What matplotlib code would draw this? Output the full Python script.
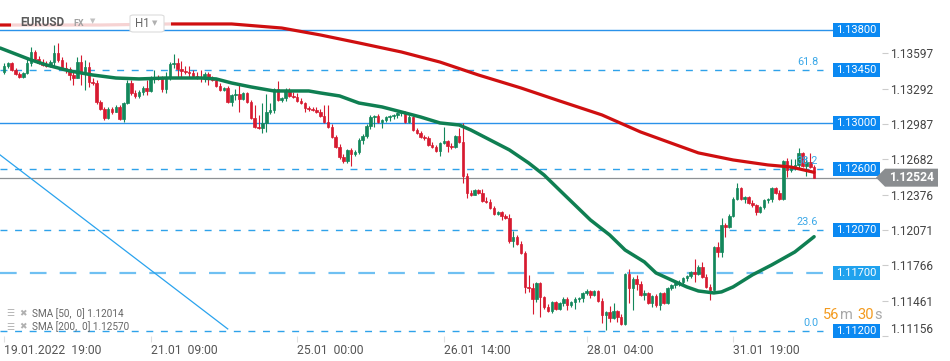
import matplotlib
matplotlib.use("Agg")
import matplotlib.pyplot as plt
from matplotlib.patches import Rectangle, Polygon, FancyBboxPatch
import numpy as np

plt.rcParams['font.family'] = ['Roboto', 'DejaVu Sans']
plt.rcParams['lines.scale_dashes'] = False

# EURUSD H1 candles (open of each candle = previous close)
first_open = 1.13437
close = [
    1.13489, 1.13515, 1.13454, 1.13420, 1.13394, 1.13428, 1.13515, 1.13610, 1.13549, 1.13515,
    1.13498, 1.13489, 1.13523, 1.13601, 1.13541, 1.13472, 1.13463, 1.13411, 1.13385, 1.13523,
    1.13437, 1.13480, 1.13351, 1.13342, 1.13178, 1.13118, 1.13040, 1.13118, 1.13092, 1.13135,
    1.13031, 1.13169, 1.13342, 1.13256, 1.13230, 1.13264, 1.13299, 1.13273, 1.13385, 1.13394,
    1.13385, 1.13290, 1.13385, 1.13506, 1.13515, 1.13463, 1.13446, 1.13437, 1.13428, 1.13402,
    1.13394, 1.13385, 1.13420, 1.13377, 1.13368, 1.13316, 1.13282, 1.13299, 1.13178, 1.13238,
    1.13247, 1.13204, 1.13256, 1.13178, 1.13040, 1.12962, 1.12954, 1.12997, 1.13092, 1.13109,
    1.13290, 1.13195, 1.13213, 1.13282, 1.13230, 1.13221, 1.13187, 1.13169, 1.13126, 1.13118,
    1.13109, 1.13092, 1.13057, 1.13005, 1.12962, 1.12876, 1.12789, 1.12703, 1.12668, 1.12764,
    1.12729, 1.12746, 1.12850, 1.12884, 1.12971, 1.13048, 1.13057, 1.13005, 1.13023, 1.13048,
    1.13057, 1.13066, 1.13083, 1.13092, 1.13005, 1.13048, 1.12936, 1.12910, 1.12876, 1.12867,
    1.12807, 1.12789, 1.12755, 1.12824, 1.12841, 1.12798, 1.12789, 1.12884, 1.12833, 1.12539,
    1.12392, 1.12375, 1.12417, 1.12392, 1.12323, 1.12314, 1.12262, 1.12210, 1.12228, 1.12193,
    1.12176, 1.11977, 1.12012, 1.11951, 1.11874, 1.11580, 1.11571, 1.11476, 1.11615, 1.11494,
    1.11407, 1.11373, 1.11450, 1.11390, 1.11442, 1.11476, 1.11424, 1.11450, 1.11476, 1.11485,
    1.11528, 1.11545, 1.11511, 1.11545, 1.11459, 1.11338, 1.11364, 1.11312, 1.11373, 1.11321,
    1.11260, 1.11692, 1.11571, 1.11649, 1.11606, 1.11511, 1.11528, 1.11442, 1.11502, 1.11424,
    1.11528, 1.11442, 1.11571, 1.11597, 1.11615, 1.11623, 1.11658, 1.11675, 1.11709, 1.11692,
    1.11753, 1.11666, 1.11580, 1.11554, 1.11925, 1.11882, 1.12115, 1.12098, 1.12193, 1.12340,
    1.12435, 1.12340, 1.12357, 1.12305, 1.12288, 1.12228, 1.12271, 1.12331, 1.12340, 1.12435,
    1.12392, 1.12340, 1.12668, 1.12590, 1.12616, 1.12634, 1.12738, 1.12625, 1.12660, 1.12616,
    1.12524,
]
high = [
    1.13515, 1.13523, 1.13523, 1.13472, 1.13437, 1.13437, 1.13558, 1.13653, 1.13627, 1.13575,
    1.13549, 1.13532, 1.13541, 1.13670, 1.13688, 1.13567, 1.13523, 1.13480, 1.13437, 1.13567,
    1.13584, 1.13541, 1.13523, 1.13385, 1.13368, 1.13195, 1.13135, 1.13135, 1.13135, 1.13152,
    1.13152, 1.13178, 1.13368, 1.13368, 1.13282, 1.13282, 1.13316, 1.13368, 1.13402, 1.13454,
    1.13411, 1.13402, 1.13437, 1.13523, 1.13593, 1.13558, 1.13532, 1.13489, 1.13489, 1.13454,
    1.13437, 1.13454, 1.13437, 1.13437, 1.13402, 1.13385, 1.13342, 1.13308, 1.13316, 1.13247,
    1.13290, 1.13325, 1.13264, 1.13264, 1.13195, 1.13152, 1.13066, 1.13169, 1.13247, 1.13169,
    1.13299, 1.13359, 1.13221, 1.13299, 1.13299, 1.13264, 1.13256, 1.13213, 1.13178, 1.13143,
    1.13135, 1.13135, 1.13118, 1.13152, 1.13152, 1.12988, 1.12893, 1.12815, 1.12729, 1.12772,
    1.12781, 1.12764, 1.12867, 1.12902, 1.12988, 1.13066, 1.13066, 1.13074, 1.13031, 1.13057,
    1.13066, 1.13074, 1.13092, 1.13100, 1.13100, 1.13066, 1.13057, 1.12954, 1.12928, 1.12893,
    1.12884, 1.12833, 1.12807, 1.12833, 1.12962, 1.12850, 1.12824, 1.12893, 1.12954, 1.12997,
    1.12565, 1.12417, 1.12426, 1.12426, 1.12426, 1.12357, 1.12340, 1.12279, 1.12236, 1.12236,
    1.12210, 1.12210, 1.12064, 1.12029, 1.11977, 1.11891, 1.11684, 1.11615, 1.11623, 1.11623,
    1.11502, 1.11433, 1.11459, 1.11459, 1.11450, 1.11494, 1.11494, 1.11459, 1.11494, 1.11494,
    1.11537, 1.11563, 1.11554, 1.11554, 1.11554, 1.11485, 1.11373, 1.11416, 1.11442, 1.11381,
    1.11347, 1.11701, 1.11735, 1.11666, 1.11684, 1.11632, 1.11554, 1.11537, 1.11511, 1.11519,
    1.11537, 1.11537, 1.11580, 1.11606, 1.11623, 1.11640, 1.11666, 1.11684, 1.11718, 1.11822,
    1.11770, 1.11796, 1.11692, 1.11606, 1.11934, 1.11969, 1.12176, 1.12133, 1.12210, 1.12357,
    1.12478, 1.12444, 1.12366, 1.12366, 1.12331, 1.12297, 1.12279, 1.12340, 1.12349, 1.12444,
    1.12444, 1.12417, 1.12677, 1.12694, 1.12686, 1.12686, 1.12781, 1.12746, 1.12703, 1.12738,
    1.12634,
]
low = [
    1.13420, 1.13472, 1.13446, 1.13411, 1.13385, 1.13385, 1.13420, 1.13489, 1.13541, 1.13506,
    1.13489, 1.13480, 1.13480, 1.13489, 1.13523, 1.13454, 1.13428, 1.13368, 1.13325, 1.13385,
    1.13325, 1.13282, 1.13308, 1.13325, 1.13161, 1.13109, 1.13023, 1.13031, 1.13074, 1.13092,
    1.13023, 1.13005, 1.13161, 1.13238, 1.13213, 1.13213, 1.13238, 1.13238, 1.13264, 1.13342,
    1.13368, 1.13264, 1.13256, 1.13368, 1.13472, 1.13394, 1.13385, 1.13420, 1.13394, 1.13385,
    1.13377, 1.13351, 1.13351, 1.13325, 1.13359, 1.13308, 1.13273, 1.13273, 1.13169, 1.13143,
    1.13195, 1.13092, 1.13195, 1.13169, 1.13031, 1.12954, 1.12945, 1.12910, 1.12919, 1.13074,
    1.13083, 1.13187, 1.13178, 1.13187, 1.13221, 1.13213, 1.13178, 1.13161, 1.13092, 1.13100,
    1.13100, 1.13083, 1.13048, 1.12997, 1.12954, 1.12867, 1.12781, 1.12686, 1.12651, 1.12651,
    1.12625, 1.12712, 1.12729, 1.12815, 1.12867, 1.12945, 1.12962, 1.12997, 1.12954, 1.13005,
    1.13014, 1.13031, 1.13040, 1.13057, 1.12997, 1.12997, 1.12928, 1.12902, 1.12867, 1.12850,
    1.12798, 1.12781, 1.12746, 1.12712, 1.12815, 1.12746, 1.12772, 1.12781, 1.12824, 1.12478,
    1.12349, 1.12366, 1.12375, 1.12383, 1.12314, 1.12305, 1.12254, 1.12202, 1.12202, 1.12159,
    1.12167, 1.11960, 1.11925, 1.11943, 1.11865, 1.11528, 1.11537, 1.11347, 1.11450, 1.11321,
    1.11390, 1.11364, 1.11355, 1.11381, 1.11381, 1.11416, 1.11381, 1.11407, 1.11390, 1.11450,
    1.11450, 1.11511, 1.11485, 1.11502, 1.11450, 1.11269, 1.11209, 1.11278, 1.11303, 1.11278,
    1.11252, 1.11252, 1.11442, 1.11381, 1.11554, 1.11502, 1.11468, 1.11433, 1.11407, 1.11407,
    1.11381, 1.11433, 1.11433, 1.11554, 1.11571, 1.11589, 1.11606, 1.11632, 1.11658, 1.11623,
    1.11684, 1.11658, 1.11571, 1.11468, 1.11545, 1.11839, 1.11839, 1.12012, 1.12089, 1.12185,
    1.12331, 1.12331, 1.12305, 1.12297, 1.12271, 1.12202, 1.12219, 1.12254, 1.12305, 1.12314,
    1.12383, 1.12331, 1.12331, 1.12530, 1.12573, 1.12590, 1.12607, 1.12616, 1.12539, 1.12607,
    1.12521,
]

# moving averages (candle index, value)
sma50_idx = [-1, 7, 11, 17, 23, 29, 35, 42, 51, 55, 59, 64, 70, 79, 82, 87, 92, 98, 103, 108,
             113, 118, 121, 126, 131, 136, 140, 144, 152, 157, 161, 166, 169, 173, 177, 180,
             184, 186, 189, 194, 199, 205, 210]
sma50 = [1.13644, 1.13541, 1.13498, 1.13446, 1.13411, 1.13385, 1.13377, 1.13385, 1.13385, 1.13377,
         1.13342, 1.13308, 1.13273, 1.13273, 1.13256, 1.13230, 1.13169, 1.13135, 1.13092, 1.13048,
         1.12997, 1.12979, 1.12936, 1.12850, 1.12764, 1.12651, 1.12547, 1.12417, 1.12159, 1.12029,
         1.11899, 1.11796, 1.11701, 1.11640, 1.11580, 1.11545, 1.11528, 1.11537, 1.11580, 1.11684,
         1.11770, 1.11882, 1.12014]
sma200_idx = [-1, 25, 43, 59, 72, 82, 92, 103, 113, 123, 134, 144, 155, 165, 175, 180, 189, 198, 204, 210]
sma200 = [1.13843, 1.13843, 1.13852, 1.13852, 1.13817, 1.13757, 1.13688, 1.13610, 1.13523, 1.13411,
          1.13299, 1.13187, 1.13066, 1.12919, 1.12798, 1.12738, 1.12677, 1.12634, 1.12616, 1.12570]

solid_levels = [1.13800, 1.13000]
fib_levels = [1.13450, 1.12600, 1.12070, 1.11200]
fib_names = ["61.8", "38.2", "23.6", "0.0"]
zone_level = 1.11700
box_levels = [1.13800, 1.13450, 1.13000, 1.12600, 1.12070, 1.11700, 1.11200]
last_price = 1.12524

trend_x = [-1, 58]
trend_y = [1.12720, 1.11217]

ytick_vals = [1.13597, 1.13292, 1.12987, 1.12682, 1.12376, 1.12071, 1.11766, 1.11461, 1.11156]
date_pos = [0, 38, 76, 114, 151, 189]
date_labels = ["19.01.2022  19:00", "21.01  09:00", "25.01  00:00",
               "26.01  14:00", "28.01  04:00", "31.01  19:00"]

GREEN = '#13875b'
RED = '#d71a30'
BLUE = '#2a92ea'
FIB = '#2ea2ea'

W, H = 950, 361
AX_W, AX_H = 882, 336
fig = plt.figure(figsize=(W / 100, H / 100), dpi=100)
ax = fig.add_axes([0, (H - AX_H) / H, AX_W / W, AX_H / H])
x0, x1 = -1.04, 227.6
y0, y1 = 1.11157, 1.14059
ax.set_xlim(x0, x1)
ax.set_ylim(y0, y1)
dpp = (y1 - y0) / AX_H


def px_x(px):
    return x0 + px / AX_W * (x1 - x0)


# candles
n = len(close)
idx = np.arange(n)
closes = np.array(close)
opens = np.array([first_open] + close[:-1])
cols = np.where(closes >= opens, GREEN, RED)
ax.vlines(idx, low, high, colors=cols, lw=0.8, zorder=3)
ax.bar(idx, np.abs(closes - opens), bottom=np.minimum(opens, closes), width=0.66,
       color=cols, edgecolor=cols, lw=0.5, zorder=3)

# horizontal levels
for lv in solid_levels:
    ax.plot([x0, px_x(833)], [lv, lv], color=BLUE, lw=1.0, zorder=2)
for lv in fib_levels:
    ax.plot([x0, px_x(823)], [lv, lv], color=FIB, lw=1.0, ls=(0, (5, 5.5)), zorder=2)
ax.plot([x0, px_x(830)], [zone_level, zone_level], color='#6fc0f2', lw=1.6,
        ls=(0, (12, 9.5)), zorder=2)
ax.plot([x0, x1], [last_price, last_price], color='#8e9194', lw=0.9, zorder=2)
ax.plot(trend_x, trend_y, color='#2aa3ee', lw=0.9, zorder=2)

# fib labels
for lv, name in zip(fib_levels, fib_names):
    ax.text(px_x(818), lv + 8 * dpp, name, ha='right', va='center', fontsize=7.8, color='#3aa8e8',
            zorder=6)

# moving averages
ax.plot(sma200_idx, sma200, color='#cf0f10', lw=2.3, zorder=4, solid_capstyle='round')
ax.plot(sma50_idx, sma50, color='#0f7f52', lw=2.5, zorder=4, solid_capstyle='round')

# price boxes on the right
for lv in box_levels:
    fc = '#20a2ee' if lv == zone_level else '#0b89f2'
    ax.add_patch(Rectangle((px_x(833), lv - 7 * dpp), px_x(880) - px_x(833), 14 * dpp,
                           fc=fc, ec='none', zorder=6, clip_on=False))
    ax.text((px_x(833) + px_x(880)) / 2, lv, f"{lv:.5f}", ha='center', va='center',
            color='white', fontsize=8, zorder=7)

# current price tag
tag = [(px_x(876), last_price), (px_x(885), last_price + 9 * dpp), (px_x(938), last_price + 9 * dpp),
       (px_x(938), last_price - 9 * dpp), (px_x(885), last_price - 9 * dpp)]
ax.add_patch(Polygon(tag, closed=True, fc='#8a8d90', ec='none', zorder=8, clip_on=False))
ax.text(px_x(912), last_price, f"{last_price:.5f}", ha='center', va='center', color='white',
        fontsize=8.7, fontweight='bold', zorder=9, clip_on=False)

# axes styling
for s in ax.spines.values():
    s.set_visible(False)
ax.yaxis.tick_right()
ax.set_yticks(ytick_vals)
ax.set_yticklabels([f"{v:.5f}" for v in ytick_vals])
ax.tick_params(axis='y', length=4, color='#cccccc', labelsize=8.6, labelcolor='#444444', pad=2)
ax.get_yticklabels()[-1].set_va('bottom')
ax.set_xticks(date_pos)
ax.set_xticklabels(date_labels, ha='left')
ax.tick_params(axis='x', length=4, color='#e0e0e0', labelsize=8.7, labelcolor='#555555', pad=1.5)

# header
fig.add_artist(Rectangle((11 / W, 1 - 29 / H), 160 / W, 15 / H, transform=fig.transFigure,
                         fc='white', ec='none', alpha=0.82, zorder=5))
fig.text(20 / W, 1 - 23 / H, "EURUSD", fontsize=8.5, fontweight='bold', color='#5a5a5a',
         va='center', zorder=6)
fig.text(73 / W, 1 - 23 / H, "FX", fontsize=6.5, fontweight='bold', color='#a0a0a0',
         va='center', zorder=6)
fig.text(90 / W, 1 - 21 / H, "\u25bc", fontsize=5, color='#c0c0c0', va='center',
         family='DejaVu Sans', zorder=6)
fig.add_artist(FancyBboxPatch((130 / W, 1 - 32 / H), 34 / W, 17 / H, transform=fig.transFigure,
                              boxstyle='round,pad=0,rounding_size=0.004', fc='white',
                              ec='#dcdcdc', lw=0.8, zorder=6))
fig.text(135 / W, 1 - 23.5 / H, "H1", fontsize=8.3, color='#666666', va='center', zorder=7)
fig.text(152 / W, 1 - 23 / H, "\u25bc", fontsize=5, color='#b0b0b0', va='center',
         family='DejaVu Sans', zorder=7)

# legend
for py, label in [(314, f"SMA [50,  0] {sma50[-1]:.5f}"), (327, f"SMA [200,  0] {sma200[-1]:.5f}")]:
    fig.text(6 / W, 1 - py / H, "\u2630", fontsize=6.5, color='#b0b0b0', va='center',
             family='DejaVu Sans', zorder=6)
    fig.text(19 / W, 1 - py / H, "\u2716", fontsize=6.5, color='#b0b0b0', va='center',
             family='DejaVu Sans', zorder=6)
    fig.text(32 / W, 1 - py / H, label, fontsize=7.2, color='#666666', va='center', zorder=6)

# candle timer
for px, txt, c in [(823, "56", '#f39a1e'), (840, "m", '#a8a8a8'), (857, "30", '#f39a1e'), (874, "s", '#a8a8a8')]:
    fig.text(px / W, 1 - 315 / H, txt, fontsize=10.5, color=c, va='center', zorder=6)

fig.savefig("out.png", dpi=100)
